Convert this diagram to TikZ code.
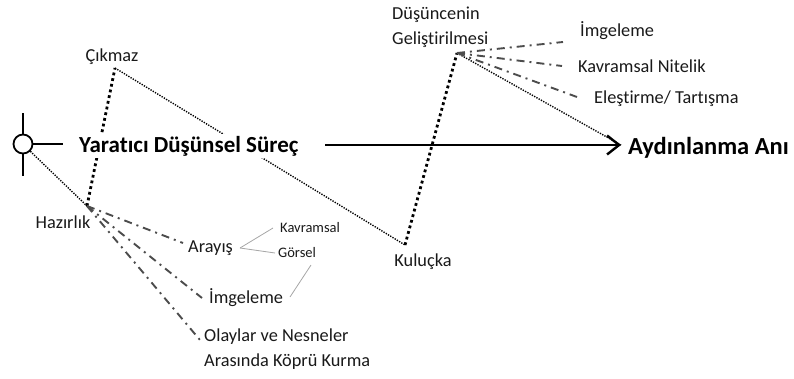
\documentclass[tikz,border=0pt]{standalone}
\usepackage{fontspec}
\setmainfont[Ligatures=NoCommon]{Carlito}
\usetikzlibrary{arrows.meta}
\begin{document}
\begin{tikzpicture}[x=1pt,y=-1pt,
  lbl/.style={inner sep=0pt,font=\fontsize{18.3}{25}\selectfont,text=black!90},
  small/.style={inner sep=0pt,font=\fontsize{14.5}{17}\selectfont,text=black!90},
  big/.style={inner sep=2pt,font=\bfseries\fontsize{23}{27}\selectfont},
  heavydots/.style={line width=2.8pt,dash pattern=on 2.8pt off 3pt},
  finedots/.style={line width=1.4pt,dash pattern=on 1.3pt off 1.3pt},
  dashdot/.style={line width=1.9pt,black!70,dash pattern=on 8pt off 5pt on 2pt off 5pt},
  branch/.style={line width=0.8pt,black!35}]
\useasboundingbox (0,0) rectangle (794,378);

% key points of the zig-zag path
\coordinate (hz) at (87,206);
\coordinate (cz) at (115,68);
\coordinate (kl) at (405,245);
\coordinate (gl) at (457,53);
\coordinate (tip) at (621,145);

% start symbol
\node[draw,circle,line width=1.8pt,minimum size=19pt,inner sep=0pt] (sym) at (23,144) {};
\draw[line width=1.8pt] (23,113) -- (sym.north) (sym.south) -- (23,176);
\draw[line width=1.8pt] (sym.east) -- (63,144);

% dotted stages
\draw[finedots] (sym.south east) -- (hz);
\draw[heavydots] (hz) -- (cz);
\draw[finedots] (cz) -- (kl);
\draw[heavydots] (kl) -- (gl);
\draw[finedots] (gl) -- (tip);

% main title and arrow
\node[big,fill=white,anchor=west] (title) at (77,146) {Yaratıcı Düşünsel Süreç};
\node[big,anchor=west,inner sep=0pt,font=\bfseries\fontsize{24.5}{28}\selectfont] (goal) at (628,148) {Aydınlanma Anı};
\draw[line width=2.8pt,-{Straight Barb[length=12pt,width=19pt,line width=2.4pt]}] (325,145) -- (tip);

% stage labels
\node[lbl] (cik) at (112,57) {Çıkmaz};
\node[lbl] (haz) at (63,222) {Hazırlık};
\node[lbl] (kul) at (423,262) {Kuluçka};
\node[lbl,align=left,anchor=north west] (gel) at (392,7) {Düşüncenin\\Geliştirilmesi};

% preparation sub-steps
\node[lbl,anchor=west] (ara) at (188,248) {Arayış};
\node[small,anchor=west] (kav) at (280,228) {Kavramsal};
\node[small,anchor=west] (gor) at (278,253) {Görsel};
\node[lbl,anchor=west] (img) at (209,298) {İmgeleme};
\node[lbl,align=left,anchor=north west] (ola) at (204,329) {Olaylar ve Nesneler\\Arasında Köprü Kurma};

\coordinate (a1) at (183,243);
\coordinate (a2) at (202,298);
\coordinate (a3) at (200,340);
\draw[dashdot] (hz) -- (a1);
\draw[dashdot] (hz) -- (a2);
\draw[dashdot] (hz) -- (a3);

\draw[branch] (240,248) -- (273,228);
\draw[branch] (240,248) -- (275,253);
\draw[branch] (311,265) -- (290,297);

% development sub-steps
\node[lbl,anchor=west] (img2) at (580,31) {İmgeleme};
\node[lbl,anchor=west] (kvn) at (578,66) {Kavramsal Nitelik};
\node[lbl,anchor=west] (ele) at (594,99) {Eleştirme/ Tartışma};

\coordinate (b1) at (563,42);
\coordinate (b2) at (562,66);
\coordinate (b3) at (577,97);
\draw[dashdot] (gl) -- (b1);
\draw[dashdot] (gl) -- (b2);
\draw[dashdot] (gl) -- (b3);
\end{tikzpicture}
\end{document}
